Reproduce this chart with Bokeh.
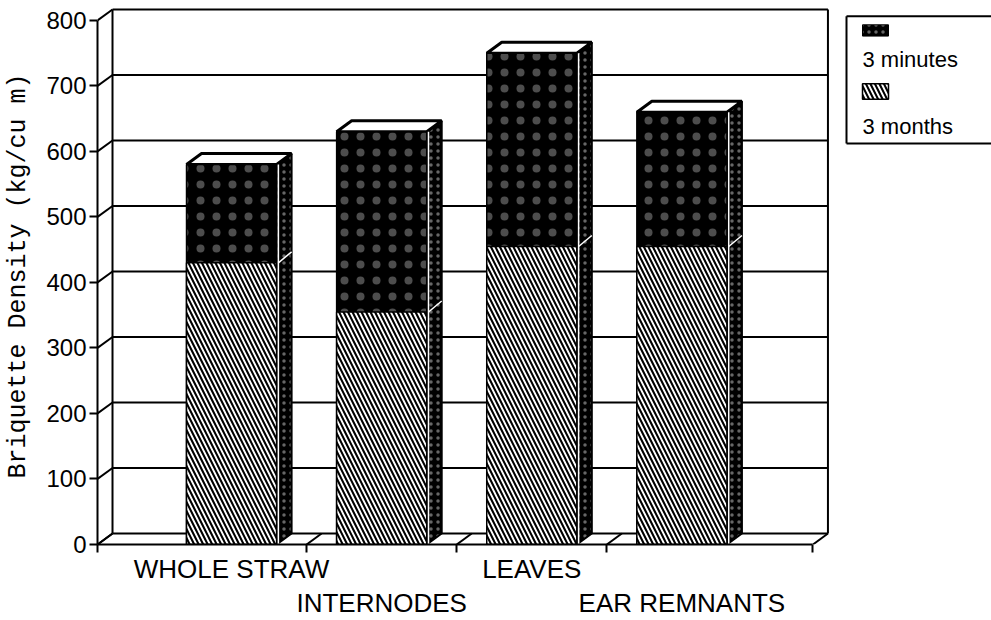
import numpy as np
from bokeh.plotting import figure
from bokeh.models import Range1d, FixedTicker, LinearAxis
from bokeh.layouts import row
from bokeh.embed import file_html
from bokeh.resources import INLINE
from bokeh.core.properties import value

# ---- data -------------------------------------------------------------
categories = ["WHOLE STRAW", "INTERNODES", "LEAVES", "EAR REMNANTS"]
density_3_minutes = [580, 630, 750, 660]   # kg/cu m
density_3_months = [430, 355, 455, 455]    # kg/cu m
y_ticks = [0, 100, 200, 300, 400, 500, 600, 700, 800]
legend_labels = ["3 minutes", "3 months"]

# ---- pseudo-3D geometry (data units) -----------------------------------
X_START, X_END = 0.107, 4.873   # extent of the front floor edge
DX = 0.1                        # depth shift along x
DY = 16.8                       # depth shift along y
HALF = 0.3                      # half width of a bar's front face
xs = np.arange(1, len(categories) + 1, dtype=float)
divisions = [X_START] + [float(x) + 0.5 for x in xs[:-1]] + [X_END]

SANS = "Liberation Sans"
MONO = "Liberation Mono"

# fill styles
SPECKLE = dict(fill_color="black", hatch_pattern=".", hatch_color="white",
               hatch_scale=16, hatch_alpha=0.3)
SPECKLE_FINE = dict(SPECKLE, hatch_scale=7, hatch_alpha=0.4)
STRIPES = dict(fill_color="white", hatch_pattern="\\", hatch_color="black",
               hatch_scale=9, hatch_weight=2.1)

p = figure(width=830, height=620,
           x_range=Range1d(X_START, 4.99), y_range=Range1d(0, 819.8),
           output_backend="svg", toolbar_location=None,
           x_axis_type=None, y_axis_type=None,
           min_border_left=97, min_border_right=0,
           min_border_top=7, min_border_bottom=75)
p.outline_line_color = None
p.xgrid.visible = False
p.ygrid.visible = False

# y axis (front edge)
yax = LinearAxis(ticker=FixedTicker(ticks=y_ticks, minor_ticks=[]),
                 bounds=(0, 800))
yax.axis_label = "Briquette Density (kg/cu m)"
yax.axis_label_text_font = MONO
yax.axis_label_text_font_size = "25px"
yax.axis_label_text_font_style = "normal"
yax.axis_label_text_color = "black"
yax.axis_label_standoff = 10
yax.axis_line_width = 2
yax.major_tick_line_width = 2
yax.major_tick_out = 8
yax.major_tick_in = 0
yax.major_label_standoff = 3
yax.major_label_text_font = SANS
yax.major_label_text_font_size = "24px"
yax.major_label_text_color = "black"
p.add_layout(yax, "left")

# x axis: division ticks + first row of category names
odd = {float(xs[i]): categories[i] for i in range(0, len(categories), 2)}
even = {float(xs[i]): categories[i] for i in range(1, len(categories), 2)}
xax = LinearAxis(ticker=FixedTicker(ticks=list(odd.keys()),
                                    minor_ticks=[X_START + 1e-4] + divisions[1:-1] + [X_END - 1e-4]),
                 bounds=(X_START, X_END))
xax.major_label_overrides = odd
xax.axis_line_width = 2
xax.major_tick_line_color = None
xax.major_tick_out = 8
xax.minor_tick_out = 8
xax.minor_tick_in = 0
xax.minor_tick_line_width = 2
xax.major_label_standoff = 1
xax.major_label_text_font = SANS
xax.major_label_text_font_size = "26px"
xax.major_label_text_color = "black"
p.add_layout(xax, "below")

# second, staggered row of category names
xax2 = LinearAxis(ticker=FixedTicker(ticks=list(even.keys()), minor_ticks=[]))
xax2.major_label_overrides = even
xax2.axis_line_color = None
xax2.major_tick_line_color = None
xax2.major_tick_out = 0
xax2.major_tick_in = 0
xax2.major_label_standoff = 1
xax2.major_label_text_font = SANS
xax2.major_label_text_font_size = "26px"
xax2.major_label_text_color = "black"
p.add_layout(xax2, "below")

# ---- walls and floor ---------------------------------------------------
back = [v + DY for v in y_ticks]
p.segment(x0=X_START + DX, x1=X_END + DX, y0=back, y1=back,
          line_color="black", line_width=2)
p.segment(x0=X_START, y0=y_ticks, x1=X_START + DX, y1=back,
          line_color="black", line_width=2)
p.segment(x0=[X_START + DX, X_END + DX], y0=DY,
          x1=[X_START + DX, X_END + DX], y1=800 + DY,
          line_color="black", line_width=2)
p.segment(x0=divisions, y0=0, x1=[d + DX for d in divisions], y1=DY,
          line_color="black", line_width=2)

# ---- bars ----------------------------------------------------------------
left = xs - HALF
right = xs + HALF
side_x = [[r, r + DX, r + DX, r] for r in right]
side_y = [[0, DY, m + DY, m] for m in density_3_minutes]
p.patches(side_x, side_y, line_color="black", line_width=2, **SPECKLE_FINE)

top_x = [[l, l + DX, r + DX, r] for l, r in zip(left, right)]
top_y = [[m, m + DY, m + DY, m] for m in density_3_minutes]
p.patches(top_x, top_y, fill_color="white", line_color="black", line_width=3)

# 3 minutes: black speckled front face
p.vbar(x=xs, width=2 * HALF, bottom=0, top=density_3_minutes,
       line_color="black", line_width=1.5, **SPECKLE)
# 3 months: striped front face
p.vbar(x=xs, width=2 * HALF, bottom=0, top=density_3_months,
       line_color="black", line_width=1.5, **STRIPES)

# light edge between front and side face, and the months level on the side
p.segment(x0=right + 0.012, y0=0, x1=right + 0.012, y1=density_3_minutes,
          line_color="white", line_width=1.5)
p.segment(x0=right + 0.012, y0=density_3_months, x1=right + DX,
          y1=[m + DY for m in density_3_months], line_color="white", line_width=1.5)

# ---- legend panel -------------------------------------------------------
LEG_W = 161
leg = figure(width=LEG_W, height=620, x_range=Range1d(0, LEG_W), y_range=Range1d(620, 0),
             output_backend="svg", toolbar_location=None,
             x_axis_type=None, y_axis_type=None, min_border=0)
leg.outline_line_color = None
leg.xgrid.visible = False
leg.ygrid.visible = False

BOX_L, BOX_T, BOX_B = 16, 10, 157
SW_L, SW_R = 32, 58
# open-ended box: it runs on past the right edge of the page
leg.segment(x0=[BOX_L, BOX_L, BOX_L], y0=[BOX_T, BOX_B, BOX_T],
            x1=[LEG_W + 40, LEG_W + 40, BOX_L], y1=[BOX_T, BOX_B, BOX_B],
            line_color="black", line_width=2)
leg.quad(left=SW_L, right=SW_R, top=20, bottom=33, line_color="black",
         **SPECKLE_FINE)
leg.quad(left=SW_L, right=SW_R, top=88, bottom=106,
         line_color="black", line_width=1.5, **STRIPES)
leg.text(x=[SW_L, SW_L], y=[60, 137], text=legend_labels,
         text_font=value(SANS), text_font_size="22px", text_color="black",
         text_baseline="middle", text_align="left")

layout = row(p, leg)
open("out.html", "w").write(file_html(layout, INLINE))
